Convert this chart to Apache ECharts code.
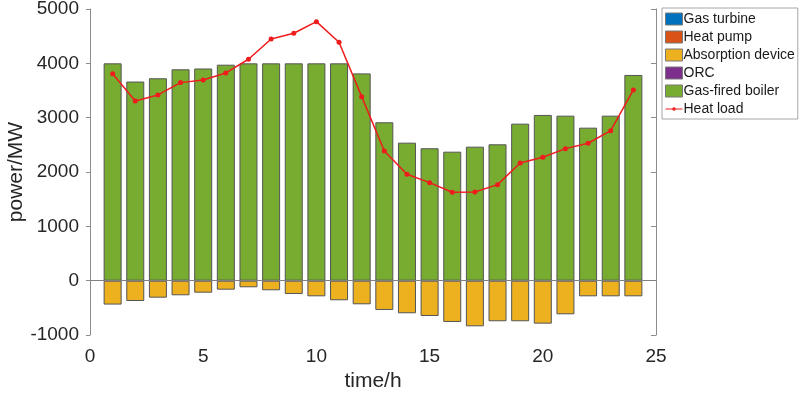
<!DOCTYPE html>
<html><head><meta charset="utf-8">
<script src="https://cdn.jsdelivr.net/npm/echarts@6/dist/echarts.min.js"></script>
<style>html,body{margin:0;padding:0;background:#fff}#c{width:800px;height:394px}</style>
</head><body><div id="c"></div>
<script>
const hours = [1,2,3,4,5,6,7,8,9,10,11,12,13,14,15,16,17,18,19,20,21,22,23,24];
const gasTurbine = [0,0,0,0,0,0,0,0,0,0,0,0,0,0,0,0,0,0,0,0,0,0,0,0];
const heatPump = [0,0,0,0,0,0,0,0,0,0,0,0,0,0,0,0,0,0,0,0,0,0,0,0];
const absorption = [-440,-374,-313,-269,-221,-166,-122,-177,-245,-288,-361,-435,-539,-600,-650,-760,-840,-747,-747,-791,-619,-288,-288,-288];
const orc = [0,0,0,0,0,0,0,0,0,0,0,0,0,0,0,0,0,0,0,0,0,0,0,0];
const boiler = [4000,3665,3725,3890,3905,3975,4000,4000,4000,4000,4000,3815,2915,2540,2437,2374,2466,2510,2890,3050,3037,2816,3037,3786];
const heatLoad = [3810,3307,3418,3645,3694,3823,4075,4449,4554,4767,4388,3387,2387,1958,1804,1627,1633,1767,2166,2271,2430,2529,2761,3510];
const xTicks = [0,5,10,15,20,25];
const yTicks = [-1000,0,1000,2000,3000,4000,5000];

const pair = arr => hours.map((h,i)=>[h,arr[i]]);
const font = 'Liberation Sans, Arial, sans-serif';
const axisCol = '#8c8c8c';
const chart = echarts.init(document.getElementById('c'));
const barCommon = (name,color,data,bw)=>({
  name, type:'bar', stack:'s', barWidth:18, data:pair(data),
  itemStyle:{color, borderColor:'#555', borderWidth:bw}, emphasis:{disabled:true}
});
const sw = {borderColor:'#777',borderWidth:1};
chart.setOption({
  animation:false,
  textStyle:{fontFamily:font},
  grid:{left:90,right:144,top:9,bottom:59,containLabel:false,outerBoundsMode:'none'},
  legend:{
    left:662, top:8, orient:'vertical',
    backgroundColor:'#fff', borderColor:'#a6a6a6', borderWidth:1,
    padding:[4,3,3,3], itemGap:4, itemWidth:17, itemHeight:12,
    textStyle:{fontSize:14, color:'#1a1a1a', fontFamily:font, padding:[0,0,0,-4]},
    data:[
      {name:'Gas turbine',icon:'rect',itemStyle:sw},
      {name:'Heat pump',icon:'rect',itemStyle:sw},
      {name:'Absorption device',icon:'rect',itemStyle:sw},
      {name:'ORC',icon:'rect',itemStyle:sw},
      {name:'Gas-fired boiler',icon:'rect',itemStyle:sw},
      {name:'Heat load',icon:'path://M0,1.4L7,1.4L7,2.6L0,2.6Z M10,1.4L17,1.4L17,2.6L10,2.6Z M6.7,2A1.8,1.8,0,1,1,10.3,2A1.8,1.8,0,1,1,6.7,2Z'}
    ]
  },
  xAxis:[{
    type:'value', min:0, max:25, interval:5,
    name:'time/h', nameLocation:'middle', nameGap:36, nameMoveOverlap:false,
    nameTextStyle:{fontSize:21, color:'#262626', fontFamily:font},
    axisLine:{show:true,lineStyle:{color:axisCol}},
    axisTick:{show:true,inside:true,length:5,lineStyle:{color:axisCol}},
    axisLabel:{fontSize:19,color:'#262626',margin:12, formatter:v=>xTicks.includes(v)?String(v):''},
    splitLine:{show:false}
  },{
    type:'value', position:'top', min:0, max:25, interval:5,
    axisLine:{show:true,lineStyle:{color:axisCol}},
    axisTick:{show:true,inside:true,length:5,lineStyle:{color:axisCol}},
    axisLabel:{show:false}, splitLine:{show:false}
  }],
  yAxis:[{
    type:'value', min:-1000, max:5000, interval:1000,
    name:'power/MW', nameLocation:'middle', nameGap:63, nameMoveOverlap:false,
    nameTextStyle:{fontSize:21, color:'#262626', fontFamily:font},
    axisLine:{show:true,onZero:false,lineStyle:{color:axisCol}},
    axisTick:{show:true,inside:false,length:4,lineStyle:{color:axisCol}},
    axisLabel:{fontSize:19,color:'#262626',margin:11, formatter:v=>yTicks.includes(v)?String(v):''},
    splitLine:{show:false}
  },{
    type:'value', position:'right', min:-1000, max:5000, interval:1000,
    axisLine:{show:true,onZero:false,lineStyle:{color:axisCol}},
    axisTick:{show:true,inside:true,length:5,lineStyle:{color:axisCol}},
    axisLabel:{show:false}, splitLine:{show:false}
  }],
  series:[
    barCommon('Gas turbine','#0072BD',gasTurbine,0),
    barCommon('Heat pump','#D95319',heatPump,0),
    barCommon('Absorption device','#EDB120',absorption,1),
    barCommon('ORC','#7E2F8E',orc,0),
    Object.assign(barCommon('Gas-fired boiler','#77AC30',boiler,1),{
      markLine:{silent:true,symbol:'none',label:{show:false},lineStyle:{color:'#808080',width:1,type:'solid'},data:[{yAxis:0}]}
    }),
    {name:'Heat load',type:'line',data:pair(heatLoad),z:10,
     lineStyle:{color:'#ee1c1c',width:1.5},itemStyle:{color:'#ee1c1c'},
     symbol:'circle',symbolSize:5,showSymbol:true,emphasis:{disabled:true}}
  ]
});
</script></body></html>
